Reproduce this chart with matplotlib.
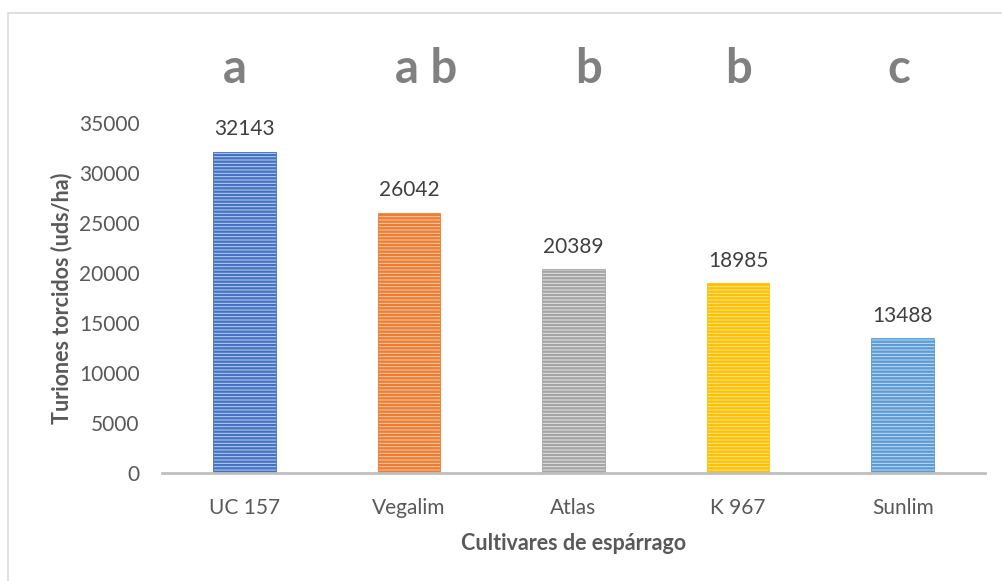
import matplotlib.pyplot as plt
from matplotlib.patches import Rectangle
from matplotlib.transforms import offset_copy

# data
cultivars = ['UC 157', 'Vegalim', 'Atlas', 'K 967', 'Sunlim']
values = [32143, 26042, 20389, 18985, 13488]
letters = ['a', 'a b', 'b', 'b', 'c']
colors = ['#4472C4', '#ED7D31', '#A5A5A5', '#FFC000', '#5B9BD5']
light = ['#C3D2EE', '#F8CBAD', '#E6E6E6', '#FFE699', '#C9DDF1']

plt.rcParams['font.family'] = ['Lato', 'DejaVu Sans']
plt.rcParams['hatch.linewidth'] = 1.7

fig = plt.figure(figsize=(10.02, 5.81), dpi=100)
W, H = 1002, 581
ax = fig.add_axes([162 / W, (H - 473) / H, (985 - 162) / W, 350 / H])

# chart border
fig.patches.append(Rectangle((8 / W, -0.1), 1.2, (H - 13) / H + 0.1,
                             transform=fig.transFigure, fill=False,
                             edgecolor='#D9D9D9', linewidth=1.2))

x = range(len(cultivars))
bars = ax.bar(x, values, width=0.38, color=light, edgecolor=colors,
              linewidth=0.6, hatch='-----', zorder=2)

# letters were placed by hand in the original, slightly off-centre
letter_dx = [-9, 17, 15, 0, -4]
for i, v in enumerate(values):
    ax.text(i, v + 1650, str(v), ha='center', va='baseline',
            fontsize=15, color='#404040')
    tr = offset_copy(ax.transData, fig=fig, x=letter_dx[i] * 0.72, y=0,
                     units='points')
    ax.text(i, 39000, letters[i], ha='center', va='baseline', transform=tr,
            fontsize=34, fontweight='bold', color='#808080', clip_on=False)

ax.set_xlim(-0.5, 4.5)
ax.set_ylim(0, 35000)
ax.set_yticks(range(0, 35001, 5000))
ax.set_xticks(list(x))
ax.set_xticklabels(cultivars)
ax.tick_params(axis='both', length=0, labelsize=15, colors='#595959')
ax.tick_params(axis='y', pad=16)
ax.tick_params(axis='x', pad=18)

for s in ['top', 'right', 'left']:
    ax.spines[s].set_visible(False)
ax.spines['bottom'].set_color('#BFBFBF')
ax.spines['bottom'].set_linewidth(2)
ax.spines['bottom'].set_zorder(3)

ax.set_ylabel('Turiones torcidos (uds/ha)', fontsize=15.5, fontweight='bold',
              color='#595959', labelpad=5)
ax.set_xlabel('Cultivares de espárrago', fontsize=15.5, fontweight='bold',
              color='#595959', labelpad=11)

fig.savefig('out.png', dpi=100)
